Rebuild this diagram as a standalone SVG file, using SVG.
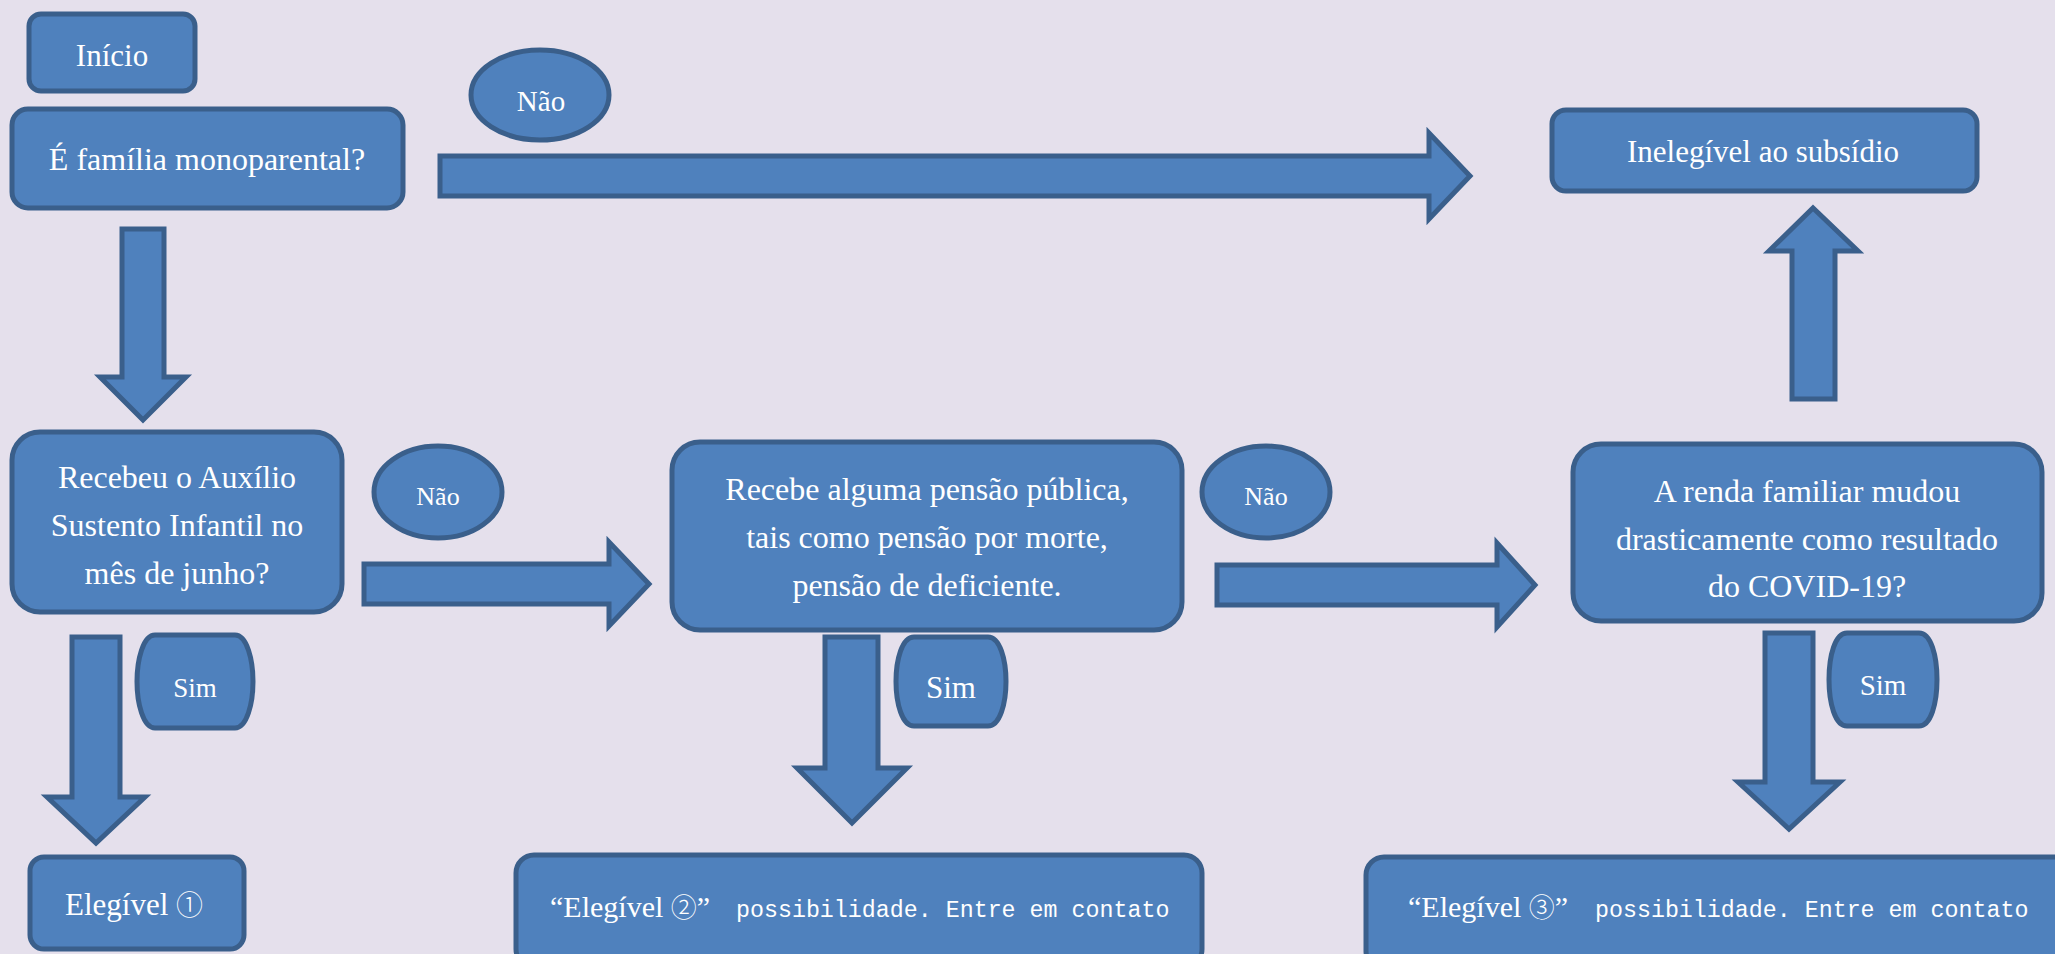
<svg xmlns="http://www.w3.org/2000/svg" width="2055" height="954" viewBox="0 0 2055 954">
<style>
.box{fill:#4F81BD;stroke:#3A5F8B;stroke-width:5}
.arr{fill:#4F81BD;stroke:#3A5F8B;stroke-width:5;stroke-linejoin:miter}
.t{font-family:'Liberation Serif','Times New Roman',serif;fill:#FFFFFF;text-anchor:middle}
.s{text-anchor:start}
.c{font-family:'Noto Sans CJK JP',sans-serif;font-weight:300}
.m{font-family:'Liberation Mono','Courier New',monospace;fill:#FFFFFF}
</style>
<rect x="0" y="0" width="2055" height="954" fill="#E5E0EC"/>
<g id="connectors">
<polygon class="arr" points="122,229 164,229 164,377 186,377 143,420 100,377 122,377"/>
<polygon class="arr" points="440,156 1429,156 1429,133 1470,176 1429,219 1429,196 440,196"/>
<polygon class="arr" points="1792,399 1835,399 1835,251 1858,251 1813,208 1769,251 1792,251"/>
<polygon class="arr" points="72,637 120,637 120,797 145,797 96,843 47,797 72,797"/>
<polygon class="arr" points="364,564 609,564 609,542 649,584 609,626 609,604 364,604"/>
<polygon class="arr" points="825,637 878,637 878,768 907,768 852,823 797,768 825,768"/>
<polygon class="arr" points="1217,565 1497,565 1497,543 1535,585 1497,627 1497,605 1217,605"/>
<polygon class="arr" points="1765,633 1813,633 1813,782 1840,782 1789,829 1738,782 1765,782"/>
</g>
<g id="inicio">
<rect class="box" x="29" y="14" width="166" height="77" rx="12"/>
<text class="t" x="112" y="66" font-size="31">Início</text>
</g>
<g id="monoparental">
<rect class="box" x="12" y="109" width="391" height="99" rx="16"/>
<text class="t" x="207" y="170" font-size="32">É família monoparental?</text>
</g>
<g id="nao1">
<ellipse class="box" cx="540" cy="95" rx="69" ry="45"/>
<text class="t" x="541" y="111" font-size="29">Não</text>
</g>
<g id="inelegivel">
<rect class="box" x="1552" y="110" width="425" height="81" rx="14"/>
<text class="t" x="1763" y="162" font-size="31">Inelegível ao subsídio</text>
</g>
<g id="recebeu">
<rect class="box" x="12" y="432" width="330" height="180" rx="28"/>
<text class="t" font-size="32"><tspan x="177" y="488">Recebeu o Auxílio</tspan><tspan x="177" y="536">Sustento Infantil no</tspan><tspan x="177" y="584">mês de junho?</tspan></text>
</g>
<g id="nao2">
<ellipse class="box" cx="438" cy="492" rx="64" ry="46"/>
<text class="t" x="438" y="505" font-size="26">Não</text>
</g>
<g id="simL">
<path class="box" d="M155,635 H235 C247,635 253,660 253,681.5 C253,703 247,728 235,728 H155 C143,728 137,703 137,681.5 C137,660 143,635 155,635 Z"/>
<text class="t" x="195" y="697" font-size="27">Sim</text>
</g>
<g id="elegivel1">
<rect class="box" x="30" y="857" width="214" height="92" rx="14"/>
<text class="t s" x="65" y="915" font-size="31">Elegível <tspan class="c" font-size="27">①</tspan></text>
</g>
<g id="recebe">
<rect class="box" x="672" y="442" width="510" height="188" rx="28"/>
<text class="t" font-size="32"><tspan x="927" y="500">Recebe alguma pensão pública,</tspan><tspan x="927" y="548">tais como pensão por morte,</tspan><tspan x="927" y="596">pensão de deficiente.</tspan></text>
</g>
<g id="nao3">
<ellipse class="box" cx="1266" cy="492" rx="64" ry="46"/>
<text class="t" x="1266" y="505" font-size="26">Não</text>
</g>
<g id="simM">
<path class="box" d="M914,637 H988 C1000,637 1006,660 1006,681.5 C1006,703 1000,726 988,726 H914 C902,726 896,703 896,681.5 C896,660 902,637 914,637 Z"/>
<text class="t" x="951" y="698" font-size="31">Sim</text>
</g>
<g id="elegivel2">
<rect class="box" x="516" y="855" width="686" height="112" rx="18"/>
<text class="t s" x="550" y="917" font-size="30">“Elegível <tspan class="c" font-size="26">②</tspan>”<tspan class="m" x="722" font-size="23.3"> possibilidade. Entre em contato</tspan></text>
</g>
<g id="renda">
<rect class="box" x="1573" y="444" width="469" height="177" rx="28"/>
<text class="t" font-size="32"><tspan x="1807" y="502">A renda familiar mudou</tspan><tspan x="1807" y="550">drasticamente como resultado</tspan><tspan x="1807" y="597">do COVID-19?</tspan></text>
</g>
<g id="simR">
<path class="box" d="M1847,633 H1919 C1931,633 1937,656 1937,679.5 C1937,703 1931,726 1919,726 H1847 C1835,726 1829,703 1829,679.5 C1829,656 1835,633 1847,633 Z"/>
<text class="t" x="1883" y="695" font-size="29">Sim</text>
</g>
<g id="elegivel3">
<rect class="box" x="1366" y="857" width="720" height="112" rx="18"/>
<text class="t s" x="1408" y="917" font-size="30">“Elegível <tspan class="c" font-size="26">③</tspan>”<tspan class="m" x="1581" font-size="23.3"> possibilidade. Entre em contato</tspan></text>
</g>
</svg>
